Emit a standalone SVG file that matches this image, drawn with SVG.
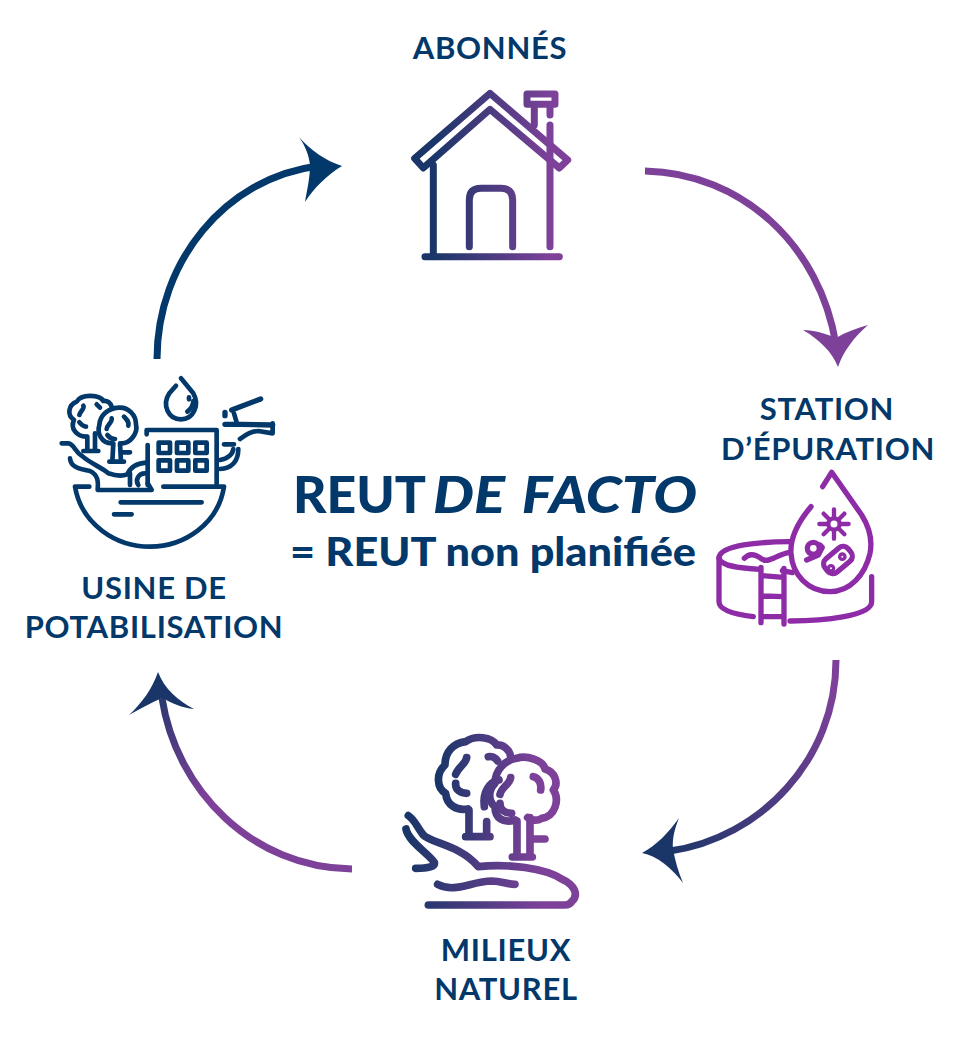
<svg xmlns="http://www.w3.org/2000/svg" width="967" height="1052" viewBox="0 0 967 1052">
<style>
.lbl{font-family:"Lato","Liberation Sans",sans-serif;font-weight:700;fill:#03386a;text-anchor:middle}
.l{font-size:31px;letter-spacing:.7px}
.t{font-family:"Lato","Liberation Sans",sans-serif;font-weight:900;fill:#03386a}
.ln{fill:none;stroke-linecap:round;stroke-linejoin:round}
.arc{fill:none;stroke-width:7}
</style>
<defs>
<linearGradient id="gHouse" gradientUnits="userSpaceOnUse" x1="100" y1="0" x2="450" y2="0"><stop offset="0" stop-color="#1a3668"/><stop offset="1" stop-color="#7d4199"/></linearGradient>
<linearGradient id="gTree" gradientUnits="userSpaceOnUse" x1="130" y1="0" x2="420" y2="0"><stop offset="0" stop-color="#1a3668"/><stop offset="1" stop-color="#7d4199"/></linearGradient>
<linearGradient id="gHand" gradientUnits="userSpaceOnUse" x1="40" y1="0" x2="440" y2="0"><stop offset="0" stop-color="#1a3668"/><stop offset="1" stop-color="#7d4199"/></linearGradient>
<linearGradient id="gAr2" gradientUnits="userSpaceOnUse" x1="840" y1="700" x2="660" y2="860"><stop offset="0" stop-color="#7d4199"/><stop offset="1" stop-color="#1a3668"/></linearGradient>
<linearGradient id="gAr3" gradientUnits="userSpaceOnUse" x1="340" y1="870" x2="150" y2="680"><stop offset="0" stop-color="#7d4199"/><stop offset=".55" stop-color="#7d4199"/><stop offset="1" stop-color="#1a3668"/></linearGradient>
</defs>

<g id="connectors">
<path class="arc" stroke="#03386a" d="M157 359C157 262 225 178 318 166"/>
<path fill="#03386a" d="M342 166C326 161 310 150 299 137C306 147 309 156 310 165C310 178 307 190 305 202C314 188 327 175 342 166Z"/>
<path class="arc" stroke="#7d4199" d="M645 171C742 173 820 245 836 345"/>
<path fill="#7d4199" d="M838 367C832 352 820 340 803 330C815 330 826 334 836 338C846 332 857 328 868 325C854 337 843 352 838 367Z"/>
<path class="arc" stroke="url(#gAr2)" d="M836 660C836 760 760 838 670 851"/>
<path fill="#1a3668" d="M642 853C657 856 672 868 683 883C678 871 675 860 673 849C672 838 675 828 679 818C668 833 657 845 642 853Z"/>
<path class="arc" stroke="url(#gAr3)" d="M352 869C252 868 176 790 162 698"/>
<path fill="#1a3668" d="M158 672C164 688 178 701 194 709C182 708 172 703 162 698C150 703 140 709 129 715C142 703 152 689 158 672Z"/>
</g>

<g id="abonnes">
<text class="lbl l" x="490" y="59">ABONNÉS</text>
<g transform="translate(400 80) scale(.3333)" class="ln" stroke="url(#gHouse)" stroke-width="21">
<path d="M44 235L270 40L503 240L478 264L270 88L70 264Z"/>
<path d="M100 255V530M450 262V500M75 530H478"/>
<path d="M208 500V360Q208 325 243 325H303Q338 325 338 360V500"/>
<path d="M381 42H465V73H381ZM403 73V135M450 73V105M450 135V255"/>
</g>
</g>

<g id="station">
<text class="lbl l" x="827" y="420">STATION</text>
<text class="lbl l" x="828" y="460">D’ÉPURATION</text>
<g transform="translate(705 460) scale(.3333)" class="ln" stroke="#8e2ba6" stroke-width="16">
<path d="M353 80L380 37L470 165C495 205 503 240 495 280C480 345 435 395 375 395C310 395 262 345 258 280C255 235 280 185 318 140"/>
<path d="M255 245C170 245 42 255 42 295V425C42 450 90 463 145 470"/>
<path d="M42 295C50 320 110 325 165 328M232 332L262 338"/>
<path d="M118 295C135 275 155 285 172 298C190 310 215 285 250 278"/>
<path d="M255 483C350 482 500 470 500 425V350"/>
<path d="M168 322V488M237 325V492M170 347L235 352M170 408L235 410M170 470H235"/>
<circle cx="387" cy="192" r="17" stroke-width="13"/>
<path stroke-width="13" d="M387 148V170M387 214V236M343 192H365M409 192H431M356 161L371 176M403 208L418 223M418 161L403 176M371 208L356 223"/>
<circle cx="325" cy="265" r="18"/>
<path d="M345 255L352 262L340 285L305 300"/>
<rect x="354" y="274" width="90" height="52" rx="20" transform="rotate(-40 399 300)"/>
<circle cx="378" cy="325" r="5"/><circle cx="412" cy="290" r="5"/>
</g>
</g>

<g id="milieux">
<text class="lbl l" x="506" y="961">MILIEUX</text>
<text class="lbl l" x="506" y="1000">NATUREL</text>
<g transform="translate(395 725) scale(.3333)" class="ln" stroke="url(#gTree)" stroke-width="23">
<path d="M218 252C185 258 155 240 152 205C125 190 122 145 150 120C150 80 175 55 212 50C240 30 290 35 305 60C325 58 345 75 347 95"/>
<path d="M222 255V335M268 245C262 200 285 170 312 165M275 290V335M212 335H285"/>
<path d="M215 98C212 118 190 125 182 148M280 95C290 93 302 98 308 108M182 175C180 195 198 205 215 205"/>
<path d="M360 285C325 295 300 280 300 245C280 230 278 195 300 175C300 135 330 105 365 100C395 90 445 105 450 132C480 140 492 175 475 195C495 225 480 275 440 280C425 290 405 285 398 278"/>
<path d="M366 288V396M405 278V396M352 396H412M408 342H450"/>
<path d="M347 158C345 178 320 185 315 208M415 155C432 158 440 178 437 195M315 235C315 255 330 265 350 265"/>
<path stroke="url(#gHand)" d="M40 272C60 285 65 305 85 330C110 355 195 360 250 425C340 415 450 430 500 462C540 480 552 510 530 530C525 538 520 540 510 540H100"/>
<path stroke="url(#gHand)" d="M33 312C40 350 100 385 118 412C122 425 100 430 62 430M128 478C180 505 225 470 290 468C320 468 335 478 360 478"/>
</g>
</g>

<g id="usine">
<text class="lbl l" x="154" y="599">USINE DE</text>
<text class="lbl l" x="154" y="638">POTABILISATION</text>
<g transform="translate(50 365) scale(.3333)" class="ln" stroke="#03386a" stroke-width="14">
<path d="M75 365H118M340 365H522M75 365C95 480 200 545 300 545C405 545 505 475 522 365"/>
<path d="M212 412H455M192 448H245"/>
<path d="M290 208V195H500V358M293 240V360"/>
<path d="M326 233h34v31h-34zM381 233h34v31h-34zM436 233h34v31h-34zM326 286h34v31h-34zM381 286h34v31h-34zM436 286h34v31h-34z"/>
<path d="M393 40L430 85C450 120 430 163 393 163C355 163 335 120 358 85L378 62"/>
<path d="M417 97V103M430 108C430 122 422 132 412 140"/>
<path d="M108 215C80 215 60 190 72 165C50 150 55 120 80 110C95 85 150 90 160 108C172 105 182 115 185 125"/>
<path d="M112 215V255M135 205V255M100 258H145"/>
<path d="M100 122C105 130 90 140 88 150M140 118L150 128M88 172C95 180 100 185 108 185"/>
<path d="M185 235C155 235 140 205 148 180C150 150 175 130 205 128C235 125 258 150 258 178C265 205 240 235 215 235"/>
<path d="M190 235L187 290M210 235L213 290M178 290H222M215 262H240"/>
<path d="M185 160C188 172 170 180 170 192M222 155C232 165 238 172 235 182M172 210C178 218 185 222 195 222"/>
<path d="M35 235H55C75 240 75 262 95 272C120 295 160 310 175 325C195 332 215 335 232 328C240 310 255 295 288 293"/>
<path d="M60 280C62 305 85 312 120 318C145 330 145 350 143 375H305L293 355M240 360V325M265 360C255 345 265 325 285 325"/>
<path stroke-width="16" d="M545 135L632 102M525 142V152M525 178H575L668 180"/>
<path d="M552 145L560 172M668 175V205L625 198C600 198 580 215 570 222M522 238H552"/>
<path d="M510 285C535 280 548 268 550 252M510 312C545 310 565 290 565 252"/>
</g>
</g>

<g id="titre">
<text class="t" font-size="51" x="293" y="513" textLength="133" lengthAdjust="spacingAndGlyphs">REUT</text>
<text class="t" font-size="51" font-style="italic" x="433" y="513" textLength="264" lengthAdjust="spacingAndGlyphs" word-spacing="4">DE FACTO</text>
<text class="t" font-size="39" x="290" y="566" textLength="406" lengthAdjust="spacingAndGlyphs">= REUT non planifiée</text>
</g>
</svg>
